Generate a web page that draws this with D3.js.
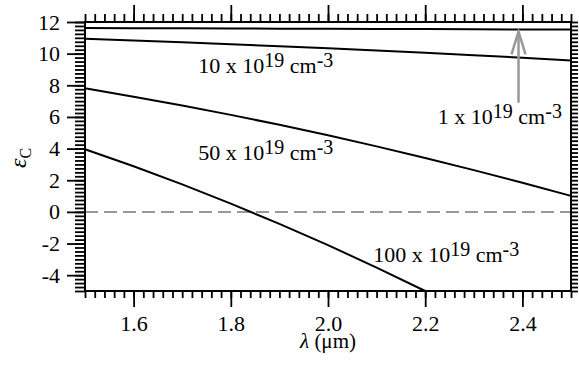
<!DOCTYPE html>
<meta charset="utf-8">
<head>
    <script type="text/javascript" src="https://d3js.org/d3.v7.min.js"></script>
    <style>
        body { margin: 0; background: white; }
        text { font-family: "Liberation Serif", "Times New Roman", serif; fill: black; }
    </style>
    <title></title>
</head>
<body>
<script>

    // wavelength (um) and permittivity
    var lambda = [1.5, 1.6, 1.7, 1.8, 1.9, 2.0, 2.1, 2.2, 2.3, 2.4, 2.5]
    var eps1 = [11.62, 11.61, 11.60, 11.59, 11.58, 11.57, 11.56, 11.55, 11.54, 11.53, 11.52]
    var eps10 = [10.94, 10.83, 10.72, 10.60, 10.47, 10.34, 10.20, 10.05, 9.90, 9.74, 9.56]
    var eps50 = [7.81, 7.28, 6.72, 6.13, 5.50, 4.84, 4.14, 3.41, 2.64, 1.84, 1.01]
    var eps100 = [3.96, 2.88, 1.74, 0.52, -0.76, -2.10, -3.52, -5.0]

    var xMajor = [1.6, 1.8, 2.0, 2.2, 2.4]
    var yMajor = [-4, -2, 0, 2, 4, 6, 8, 10, 12]

    var labels = [
        {n: "10", x: 1.733, y: 8.8},
        {n: "50", x: 1.733, y: 3.28},
        {n: "100", x: 2.093, y: -3.15},
        {n: "1", x: 2.226, y: 5.56}
    ]

    var width = 579
    var height = 366
    var margin = {left: 85, right: 8, top: 22, bottom: 75}

    var svg = d3.select("body").append("svg")
        .attr("width", width)
        .attr("height", height)

    var x = d3.scaleLinear().domain([1.5, 2.5]).range([margin.left, width - margin.right])
    var y = d3.scaleLinear().domain([-5, 12]).range([height - margin.bottom, margin.top])

    var xMinor = d3.range(1.5, 2.5001, 0.02).map(d => +d.toFixed(2))
    var yMinor = d3.range(-5, 12.001, 0.25)

    function styleAxis(g) {
        g.select(".domain").remove()
        g.attr("font-family", null)
        g.selectAll("line").attr("stroke", "black").attr("stroke-width", 1.8)
        g.selectAll("text")
            .style("font-family", "'Liberation Serif', serif")
            .style("font-size", "22px").attr("fill", "black")
    }

    // bottom
    svg.append("g").attr("transform", "translate(0," + y(-5) + ")")
        .call(d3.axisBottom(x).tickValues(xMinor).tickSize(7).tickFormat(""))
        .call(styleAxis)
    svg.append("g").attr("transform", "translate(0," + y(-5) + ")")
        .call(d3.axisBottom(x).tickValues(xMajor).tickSize(16).tickPadding(8).tickFormat(d3.format(".1f")))
        .call(styleAxis)
    // top
    svg.append("g").attr("transform", "translate(0," + y(12) + ")")
        .call(d3.axisTop(x).tickValues(xMinor).tickSize(8).tickFormat(""))
        .call(styleAxis)
    svg.append("g").attr("transform", "translate(0," + y(12) + ")")
        .call(d3.axisTop(x).tickValues(xMajor).tickSize(17).tickFormat(""))
        .call(styleAxis)
    // left
    svg.append("g").attr("transform", "translate(" + x(1.5) + ",0)")
        .call(d3.axisLeft(y).tickValues(yMinor).tickSize(10).tickFormat(""))
        .call(styleAxis)
    svg.append("g").attr("transform", "translate(" + x(1.5) + ",0)")
        .call(d3.axisLeft(y).tickValues(yMajor).tickSize(18).tickPadding(7).tickFormat(d => String(d)))
        .call(styleAxis)
    // right
    svg.append("g").attr("transform", "translate(" + x(2.5) + ",0)")
        .call(d3.axisRight(y).tickValues(yMinor).tickSize(7).tickFormat(""))
        .call(styleAxis)

    // zero line
    svg.append("line")
        .attr("x1", x(1.5)).attr("x2", x(2.5))
        .attr("y1", y(0)).attr("y2", y(0))
        .attr("stroke", "#999").attr("stroke-width", 2)
        .attr("stroke-dasharray", "13,6")

    var line = d3.line()
        .x((d, i) => x(lambda[i]))
        .y(d => y(d))

    svg.selectAll(".curve")
        .data([eps1, eps10, eps50, eps100])
        .enter().append("path")
        .attr("d", line)
        .attr("fill", "none")
        .attr("stroke", "black")
        .attr("stroke-width", 2)

    // frame
    svg.append("rect")
        .attr("x", x(1.5)).attr("y", y(12))
        .attr("width", x(2.5) - x(1.5)).attr("height", y(-5) - y(12))
        .attr("fill", "none").attr("stroke", "black").attr("stroke-width", 2)

    // arrow for the 1e19 curve
    var ax = x(2.392)
    svg.append("path")
        .attr("d", "M" + ax + "," + y(6.9) + "V" + y(11.35))
        .attr("stroke", "#999").attr("stroke-width", 2.5).attr("fill", "none")
    svg.append("path")
        .attr("d", "M" + (ax - 7) + "," + y(9.95) + "L" + ax + "," + y(11.4) + "L" + (ax + 7) + "," + y(9.95))
        .attr("stroke", "#999").attr("stroke-width", 2.5).attr("fill", "none")

    // curve labels
    labels.forEach(function (l) {
        var t = svg.append("text")
            .attr("x", x(l.x)).attr("y", y(l.y))
            .style("font-size", "22px")
        t.append("tspan").text(l.n + " x 10")
        t.append("tspan").attr("dy", -6).style("font-size", "20px").text("19")
        t.append("tspan").attr("dy", 6).text(" cm")
        t.append("tspan").attr("dy", -6).style("font-size", "20px").text("-3")
    })

    // axis titles
    var xt = svg.append("text")
        .attr("x", (x(1.5) + x(2.5)) / 2).attr("y", 348)
        .attr("text-anchor", "middle")
        .style("font-size", "21px")
    xt.append("tspan").style("font-style", "italic").text("λ")
    xt.append("tspan").text(" (μm)")

    var yt = svg.append("text")
        .attr("transform", "translate(26,158) rotate(-90)")
        .attr("text-anchor", "middle")
        .attr("fill", "black")
        .style("font-size", "24px")
    yt.append("tspan").attr("fill", "black").style("font-style", "italic").text("ε")
    yt.append("tspan").attr("fill", "black").attr("dy", 5).style("font-size", "16px").text("C")

</script>
</body>
</html>
